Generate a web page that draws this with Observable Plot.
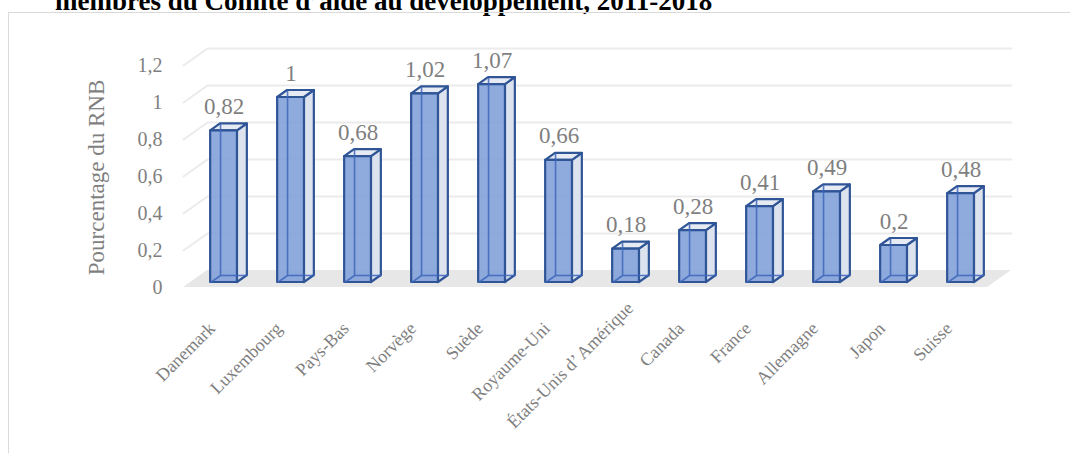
<!DOCTYPE html>
<html>
<head>
<meta charset="utf-8">
<script src="https://cdn.jsdelivr.net/npm/d3@7"></script>
<script src="https://cdn.jsdelivr.net/npm/@observablehq/plot@0.6"></script>
<style>
  html, body { margin: 0; padding: 0; background: #fff; overflow: hidden; }
  body { width: 1070px; height: 453px; position: relative; }
  #title {
    position: relative; top: -12px; height: 12px; padding-left: 55px;
    font: bold 27px/26px "Liberation Serif", "Times New Roman", serif;
    color: #000; white-space: nowrap;
  }
  #frame {
    position: absolute; left: 8px; top: 12px; width: 1100px; height: 500px;
    border-left: 1.5px solid #d9d9d9; border-top: 1.5px solid #d9d9d9;
    pointer-events: none;
  }
  #chart { position: relative; }
  #chart svg { display: block; }
</style>
</head>
<body>
<div id="title">membres du Comité d’aide au développement, 2011-2018</div>
<div id="frame"></div>
<div id="chart"></div>
<script>
// ---- Data ----
const categories = ["Danemark", "Luxembourg", "Pays-Bas", "Norvège", "Suède", "Royaume-Uni",
  "États-Unis d’ Amérique", "Canada", "France", "Allemagne", "Japon", "Suisse"];
const values = [0.82, 1, 0.68, 1.02, 1.07, 0.66, 0.18, 0.28, 0.41, 0.49, 0.2, 0.48];
const yTicks = [0, 0.2, 0.4, 0.6, 0.8, 1, 1.2];
const yTitle = "Pourcentage du RNB";

// ---- oblique 3D projection constants (depth z: 0 = back wall, 1 = floor front) ----
const KX = 24 / 67;   // x data units shifted per unit depth
const KY = 17 / 185;  // y data units shifted per unit depth
const ZF = 0.706, ZB = 0.294; // bar front / back depth
const BL = 0.3, BR = 0.7;     // bar extent within category band
const P = (u, v, z) => ({x: u - z * KX, y: v - z * KY});

const fr = v => String(v).replace(".", ",");
const serif = '"Liberation Serif", "Times New Roman", serif';
const grey = "#7f7f7f";
const blueStroke = "#2f5597";

const rows = categories.map((c, i) => ({c, i, v: values[i]}));
const n = categories.length;

// floor
const floor = [
  {y: P(0, 0, 0).y, x1: P(0, 0, 0).x, x2: P(n, 0, 0).x},
  {y: P(0, 0, 1).y, x1: P(0, 0, 1).x, x2: P(n, 0, 1).x}
];
// gridlines: side wall diagonal + back wall line
const grid = yTicks.filter(t => t > 0).flatMap(t => [
  {t, ...P(0, t, 1)}, {t, ...P(0, t, 0)}, {t, ...P(n, t, 0)}
]);
// side faces
const sides = rows.flatMap(d => [ZF, ZB].map(z => ({
  c: d.c, x: P(d.i + BR, 0, z).x, y1: P(0, 0, z).y, y2: P(0, d.v, z).y
})));
// top faces
const tops = rows.flatMap(d => [ZF, ZB].map(z => ({
  c: d.c, y: P(0, d.v, z).y, x1: P(d.i + BL, 0, z).x, x2: P(d.i + BR, 0, z).x
})));
// hidden edges (seen through the translucent front)
const edges = rows.flatMap(d => {
  const a = P(d.i + BL, 0, ZB), b = P(d.i + BL, d.v, ZB), c = P(d.i + BR, 0, ZB), f = P(d.i + BL, 0, ZF);
  return [
    {x1: a.x, y1: a.y, x2: b.x, y2: b.y},
    {x1: a.x, y1: a.y, x2: c.x, y2: c.y},
    {x1: a.x, y1: a.y, x2: f.x, y2: f.y}
  ];
});
// front faces
const fronts = rows.map(d => ({
  c: d.c, x1: P(d.i + BL, 0, ZF).x, x2: P(d.i + BR, 0, ZF).x, y1: P(0, 0, ZF).y, y2: P(0, d.v, ZF).y
}));

const chart = Plot.plot({
  width: 1070,
  height: 441,
  marginLeft: 207,
  marginRight: 59,
  marginTop: 36,
  marginBottom: 183,
  x: {type: "linear", domain: [0, n], axis: null},
  y: {type: "linear", domain: [0, 1.2], axis: null},
  style: {fontFamily: serif, background: "transparent", overflow: "visible"},
  marks: [
    Plot.areaX(floor, {y: "y", x1: "x1", x2: "x2", fill: "#e7e7e7"}),
    Plot.line(grid, {x: "x", y: "y", z: "t", stroke: "#ebebeb", strokeWidth: 2}),
    Plot.text(yTicks, {x: () => P(0, 0, 1).x, y: t => P(0, t, 1).y, text: fr, textAnchor: "end",
      dx: -21, fill: grey, fontSize: 20, fontFamily: serif}),
    Plot.text([yTitle], {frameAnchor: "left", text: d => d, rotate: -90, textAnchor: "middle",
      lineAnchor: "middle", dx: -111, dy: 18, fill: grey, fontSize: 23, fontFamily: serif}),
    Plot.areaY(sides, {x: "x", y1: "y1", y2: "y2", z: "c", fill: "#dde3ee", stroke: blueStroke,
      strokeWidth: 2.2, strokeLinejoin: "round"}),
    Plot.areaX(tops, {y: "y", x1: "x1", x2: "x2", z: "c", fill: "#e6eaf2", stroke: blueStroke,
      strokeWidth: 2.2, strokeLinejoin: "round"}),
    Plot.rect(fronts, {x1: "x1", x2: "x2", y1: "y1", y2: "y2", fill: "#83a2da", fillOpacity: 0.9,
      stroke: blueStroke, strokeWidth: 2.2, strokeLinejoin: "round"}),
    Plot.link(edges, {x1: "x1", y1: "y1", x2: "x2", y2: "y2", stroke: "#3d66bb", strokeWidth: 1.6,
      strokeOpacity: 0.85}),
    Plot.text(rows, {x: d => P(d.i + 0.5, 0, ZF).x, y: d => P(0, d.v, ZF).y, text: d => fr(d.v),
      dy: -17, lineAnchor: "bottom", fill: grey, fontSize: 23, fontFamily: serif}),
    Plot.text(rows, {x: d => d.i + 0.5, y: () => 0, text: "c", rotate: -45, textAnchor: "end",
      lineAnchor: "top", dx: -34, dy: 50, fill: grey, fontSize: 18, fontFamily: serif,
      ariaDescription: "categories"})
  ]
});
document.getElementById("chart").appendChild(chart);

// keep long rotated labels inside the chart area (as the spreadsheet does)
const limit = 432;
chart.querySelectorAll('g[aria-description="categories"] text').forEach(el => {
  const r = el.getBoundingClientRect();
  if (r.bottom > limit) {
    const ov = r.bottom - limit;
    el.setAttribute("transform", `translate(${(ov * 0.8).toFixed(1)},${(-ov).toFixed(1)}) ` + (el.getAttribute("transform") || ""));
  }
});
</script>
</body>
</html>
